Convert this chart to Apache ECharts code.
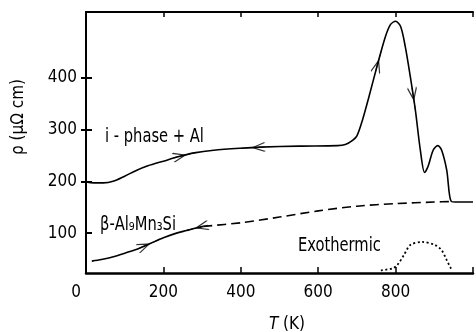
<!DOCTYPE html>
<html><head><meta charset="utf-8">
<script src="https://cdn.jsdelivr.net/npm/echarts@6/dist/echarts.min.js"></script>
<style>html,body{margin:0;padding:0;background:#fff}#c{width:476px;height:332px}</style>
</head><body><div id="c"></div>
<script>
// ---- data ----
const xTicks = [0, 200, 400, 600, 800];
const yTicks = [100, 200, 300, 400];
const yTicksRight = [200, 300, 400];

// i-phase + Al (solid)
const iPhaseT   = [0, 20, 45, 70, 100, 130, 160, 200, 240, 280, 330, 400, 450, 550, 650, 670, 685, 700, 715, 731, 753, 774, 787, 800, 813, 825, 838, 851, 864, 875, 884, 897, 909, 919, 932, 944, 960, 1000];
const iPhaseRho = [199, 197, 197, 200, 210, 221, 230, 239, 248, 255, 260, 264, 266, 268, 269, 271, 277, 288, 320, 363, 425, 480, 503, 509, 499, 460, 402, 338, 260, 217, 229, 260, 269, 260, 222, 161, 160, 160];

// beta-Al9Mn3Si solid part
const betaT   = [15, 40, 78, 107, 138, 163, 200, 234, 260, 285, 303];
const betaRho = [46, 49, 56, 63, 71, 79, 91, 100, 105, 110, 113];

// beta dashed part
const betaDashT   = [303, 400, 500, 600, 700, 800, 900, 944];
const betaDashRho = [113, 120, 131, 143, 152, 157, 160, 161];

// Exothermic (dotted)
const exoT   = [762, 792, 804, 821, 838, 868, 902, 919, 932, 943, 948];
const exoRho = [28, 32, 38, 57, 77, 83, 77, 67, 48, 32, 28];

// arrows: curve, T at tip, direction (+1 along increasing T, -1 opposite)
const arrowCurve = ['i', 'i', 'i', 'i', 'b', 'b'];
const arrowT     = [256, 431, 756, 847, 163, 285];
const arrowDir   = [1, -1, 1, 1, 1, -1];

// ---- chart ----
const FONT = '"DejaVu Sans Condensed", "DejaVu Sans", sans-serif';
const zip = (a, b) => a.map((v, i) => [v, b[i]]);
function interp(Ts, Rs, t) {
  for (let i = 0; i < Ts.length - 1; i++) {
    if (t >= Ts[i] && t <= Ts[i + 1]) {
      const f = (t - Ts[i]) / (Ts[i + 1] - Ts[i]);
      return Rs[i] + f * (Rs[i + 1] - Rs[i]);
    }
  }
  return Rs[Rs.length - 1];
}

const chart = echarts.init(document.getElementById('c'));
const lineBase = { type: 'line', xAxisIndex: 0, yAxisIndex: 0, showSymbol: false, silent: true, smooth: 0.3 };
const ARROW = 'path://M0,0L10,5L0,10M0,5L20,5';
const SX = 0.86;

chart.setOption({
  animation: false,
  grid: { left: 86, top: 12, right: -3, bottom: 59 },
  xAxis: [
    { type: 'value', min: 0, max: 1000, interval: 200, position: 'bottom',
      axisLine: { show: true, lineStyle: { color: '#000', width: 2.5 } },
      axisTick: { show: true, inside: true, length: 6, lineStyle: { color: '#000', width: 1.5 } },
      axisLabel: { color: '#000', fontFamily: FONT, fontSize: 17, margin: 11,
        formatter: v => xTicks.includes(v) ? (v === 0 ? '{z|0}' : String(v)) : '',
        rich: { z: { fontFamily: FONT, fontSize: 17, color: '#000', padding: [0, 20, 0, 0] } } },
      splitLine: { show: false } },
    { type: 'value', min: 0, max: 1000, interval: 200, position: 'top',
      axisLine: { show: true, lineStyle: { color: '#000', width: 2 } },
      axisTick: { show: true, inside: true, length: 5, lineStyle: { color: '#000', width: 1.5 } },
      axisLabel: { show: false }, splitLine: { show: false } }
  ],
  yAxis: [
    { type: 'value', min: 23, max: 527, position: 'left',
      axisLine: { show: true, lineStyle: { color: '#000', width: 2 } },
      axisTick: { show: true, inside: true, length: 6, customValues: yTicks, lineStyle: { color: '#000', width: 2 } },
      axisLabel: { color: '#000', fontFamily: FONT, fontSize: 17, margin: 9, customValues: yTicks },
      splitLine: { show: false } },
    { type: 'value', min: 23, max: 527, position: 'right',
      axisLine: { show: true, lineStyle: { color: '#000', width: 2 } },
      axisTick: { show: true, inside: true, length: 5, customValues: yTicksRight, lineStyle: { color: '#000', width: 2 } },
      axisLabel: { show: false }, splitLine: { show: false } }
  ],
  series: [
    Object.assign({}, lineBase, { data: zip(iPhaseT, iPhaseRho), lineStyle: { color: '#000', width: 1.6 } }),
    Object.assign({}, lineBase, { data: zip(betaT, betaRho), lineStyle: { color: '#000', width: 1.6 } }),
    Object.assign({}, lineBase, { data: zip(betaDashT, betaDashRho), lineStyle: { color: '#000', width: 1.6, type: [9, 5] } }),
    Object.assign({}, lineBase, { data: zip(exoT, exoRho), lineStyle: { color: '#000', width: 1.8, type: [2, 2.5] } }),
    { id: 'arrows', type: 'scatter', xAxisIndex: 0, yAxisIndex: 0, silent: true, symbol: ARROW,
      symbolSize: [24, 9], itemStyle: { color: 'rgba(0,0,0,0)', borderColor: '#000', borderWidth: 1.5 }, data: [] }
  ],
  graphic: [
    { type: 'text', x: 105, y: 137, scaleX: SX, style: { text: 'i - phase + Al', font: '19px ' + FONT, fill: '#000', verticalAlign: 'middle' } },
    { type: 'text', x: 100, y: 225, scaleX: SX, style: { text: 'β-Al₉Mn₃Si', font: '19px ' + FONT, fill: '#000', verticalAlign: 'middle' } },
    { type: 'text', x: 298, y: 246, scaleX: SX, style: { text: 'Exothermic', font: '19px ' + FONT, fill: '#000', verticalAlign: 'middle' } },
    { type: 'text', x: 287, y: 325, style: { text: '{i|T} (K)', font: '17px ' + FONT, fill: '#000', align: 'center', verticalAlign: 'middle',
        rich: { i: { fontStyle: 'italic', fontFamily: FONT, fontSize: 17 } } } },
    { type: 'text', x: 19, y: 117, rotation: Math.PI / 2, style: { text: 'ρ (μΩ cm)', font: '17px ' + FONT, fill: '#000', align: 'center', verticalAlign: 'middle' } }
  ]
});

const curves = { i: [iPhaseT, iPhaseRho], b: [betaT, betaRho] };
const arrowData = arrowT.map((t, k) => {
  const [Ts, Rs] = curves[arrowCurve[k]];
  const r = interp(Ts, Rs, t);
  const p1 = chart.convertToPixel({ xAxisIndex: 0, yAxisIndex: 0 }, [t - 4, interp(Ts, Rs, t - 4)]);
  const p2 = chart.convertToPixel({ xAxisIndex: 0, yAxisIndex: 0 }, [t + 4, interp(Ts, Rs, t + 4)]);
  const d = arrowDir[k];
  const dx = (p2[0] - p1[0]) * d, dy = (p2[1] - p1[1]) * d;
  return { value: [t, r], symbolRotate: Math.atan2(-dy, dx) * 180 / Math.PI };
});
chart.setOption({ series: [{}, {}, {}, {}, { id: 'arrows', data: arrowData }] });
</script>
</body></html>
